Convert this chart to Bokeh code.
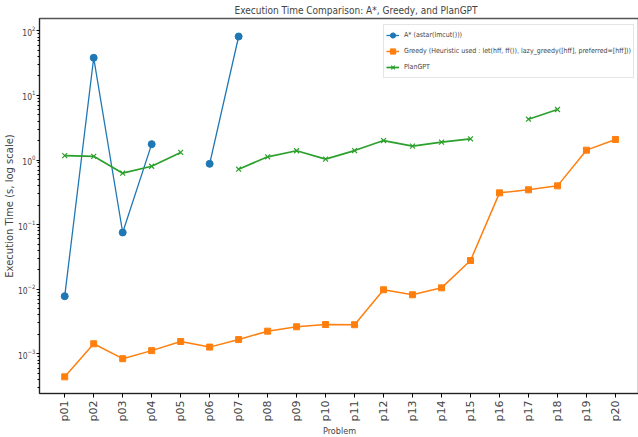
import math
from bokeh.plotting import figure
from bokeh.models import Range1d, FixedTicker, Legend, LegendItem, ColumnDataSource
from bokeh.embed import file_html
from bokeh.resources import INLINE

nan = float("nan")

problems = ["p01", "p02", "p03", "p04", "p05", "p06", "p07", "p08", "p09", "p10",
            "p11", "p12", "p13", "p14", "p15", "p16", "p17", "p18", "p19", "p20"]

astar = [0.0078, 38.2, 0.0755, 1.76, nan, 0.873, 81.6,
         nan, nan, nan, nan, nan, nan, nan, nan, nan, nan, nan, nan, nan]

greedy = [0.00044, 0.00143, 0.00084, 0.00112, 0.00155, 0.00127, 0.00166, 0.00224,
          0.00262, 0.00284, 0.00282, 0.0098, 0.0082, 0.0105, 0.0278, 0.31, 0.346,
          0.398, 1.42, 2.08]

plangpt = [1.17, 1.14, 0.625, 0.80, 1.31, nan, 0.72, 1.12, 1.39, 1.03, 1.40, 2.0,
           1.64, 1.89, 2.13, nan, 4.28, 6.05, nan, nan]

labels = ["A* (astar(lmcut()))",
          "Greedy (Heuristic used : let(hff, ff()), lazy_greedy([hff], preferred=[hff]))",
          "PlanGPT"]

xs = list(range(len(problems)))
src = ColumnDataSource(dict(x=xs, astar=astar, greedy=greedy, plangpt=plangpt))

NARROW = "'Liberation Sans Narrow', 'DejaVu Sans Condensed', 'Liberation Sans', sans-serif"

p = figure(frame_width=600, frame_height=375, output_backend="svg", toolbar_location=None,
           y_axis_type="log",
           x_range=Range1d(-0.87, 19.83), y_range=Range1d(2.43e-4, 155),
           min_border_left=30, min_border_right=0, min_border_top=12, min_border_bottom=0)

p.title.text = "Execution Time Comparison: A*, Greedy, and PlanGPT"
p.title.text_font = NARROW
p.title.text_font_size = "10px"
p.title.text_font_style = "normal"
p.title.align = "left"
p.title.offset = 195
p.title.standoff = 5

p.xgrid.visible = False
p.ygrid.visible = False
p.outline_line_color = "#555555"
p.outline_line_width = 1.5

# x axis
p.xaxis.ticker = FixedTicker(ticks=xs)
p.xaxis.major_label_overrides = {i: s for i, s in enumerate(problems)}
p.xaxis.major_label_orientation = math.pi / 2
p.xaxis.major_label_text_font = "DejaVu Sans"
p.xaxis.major_label_text_font_size = "11px"
p.xaxis.major_label_standoff = 3
p.xaxis.major_tick_out = 4
p.xaxis.major_tick_in = 0
p.xaxis.minor_tick_line_color = None
p.xaxis.axis_label = "Problem"
p.xaxis.axis_label_text_font = NARROW
p.xaxis.axis_label_text_font_size = "9px"
p.xaxis.axis_label_text_font_style = "normal"
p.xaxis.axis_label_standoff = 2
p.xaxis.axis_line_color = "#222222"

# y axis
p.yaxis.axis_label = "Execution Time (s, log scale)"
p.yaxis.axis_label_text_font = "DejaVu Sans"
p.yaxis.axis_label_text_font_size = "10px"
p.yaxis.axis_label_text_font_style = "normal"
p.yaxis.axis_label_standoff = 0
p.yaxis.major_label_text_font = NARROW
p.yaxis.major_label_text_font_size = "8.5px"
p.yaxis.major_label_standoff = 1
p.yaxis.major_tick_out = 3
p.yaxis.major_tick_in = 0
p.yaxis.minor_tick_out = 2
p.yaxis.minor_tick_in = 0
p.yaxis.axis_line_color = "#222222"

BLUE, ORANGE, GREEN = "#1f77b4", "#ff7f0e", "#2ca02c"

l1 = p.line("x", "astar", source=src, line_color=BLUE, line_width=1.3)
m1 = p.scatter("x", "astar", source=src, marker="circle", size=7,
               fill_color=BLUE, line_color=BLUE)

l2 = p.line("x", "greedy", source=src, line_color=ORANGE, line_width=1.5)
m2 = p.scatter("x", "greedy", source=src, marker="square", size=6,
               fill_color=ORANGE, line_color=ORANGE)

l3 = p.line("x", "plangpt", source=src, line_color=GREEN, line_width=1.7)
m3 = p.scatter("x", "plangpt", source=src, marker="x", size=7, line_color=GREEN,
               line_width=1.2)

legend = Legend(items=[LegendItem(label=labels[0], renderers=[l1, m1]),
                       LegendItem(label=labels[1], renderers=[l2, m2]),
                       LegendItem(label=labels[2], renderers=[l3, m3])],
                location=(344, 315), orientation="vertical")
legend.label_text_font = NARROW
legend.label_text_font_size = "7px"
legend.glyph_width = 13
legend.glyph_height = 16
legend.label_height = 16
legend.label_standoff = 5
legend.spacing = 0
legend.padding = 2
legend.margin = 0
legend.border_line_color = "#cccccc"
legend.border_line_width = 1
legend.background_fill_alpha = 0.85
p.add_layout(legend)

open("out.html", "w").write(file_html(p, INLINE))
